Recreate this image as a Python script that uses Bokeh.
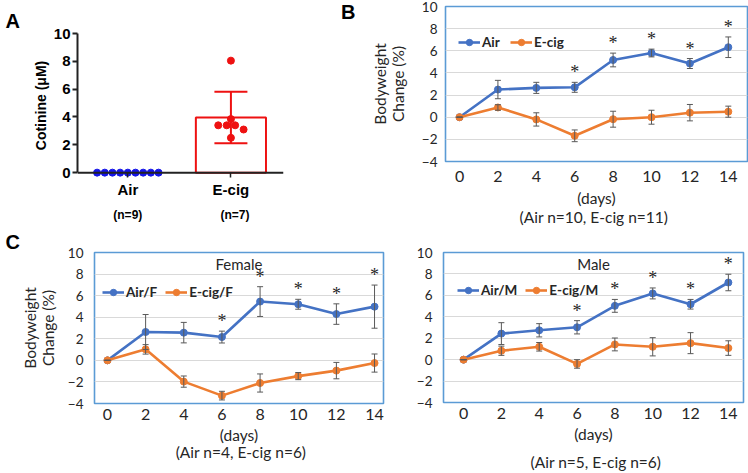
import numpy as np
from bokeh.plotting import figure
from bokeh.models import (ColumnDataSource, Span, Whisker, TeeHead, LinearAxis,
                          FixedTicker, Legend, LegendItem, Range1d, Label)
from bokeh.layouts import row, column
from bokeh.embed import file_html
from bokeh.resources import INLINE

# ---------------- data ----------------
# Panel A: serum cotinine
cotinine_groups = ["Air", "E-cig"]
cotinine_group_n = ["(n=9)", "(n=7)"]
cotinine_air = [0, 0, 0, 0, 0, 0, 0, 0, 0]
cotinine_ecig = [8.05, 3.85, 3.4, 3.4, 3.4, 3.1, 2.5]
cotinine_ticks = [0, 2, 4, 6, 8, 10]

# Bodyweight change panels
days = [0, 2, 4, 6, 8, 10, 12, 14]
bw_ticks = [-4, -2, 0, 2, 4, 6, 8, 10]

b_air = [0, 2.5, 2.65, 2.7, 5.17, 5.8, 4.85, 6.32]
b_air_err = [0, 0.83, 0.5, 0.45, 0.62, 0.35, 0.45, 0.93]
b_ecig = [0, 0.88, -0.2, -1.68, -0.18, 0.0, 0.41, 0.5]
b_ecig_err = [0, 0.25, 0.6, 0.53, 0.72, 0.63, 0.74, 0.5]
b_sig = [0, 0, 0, 1, 1, 1, 1, 1]

f_air = [0, 2.63, 2.57, 2.16, 5.45, 5.2, 4.29, 4.98]
f_air_err = [0, 1.62, 0.95, 0.55, 1.38, 0.46, 0.95, 2.0]
f_ecig = [0, 1.02, -1.97, -3.27, -2.1, -1.46, -0.95, -0.25]
f_ecig_err = [0, 0.44, 0.52, 0.4, 0.84, 0.33, 0.76, 0.84]
f_sig = [0, 0, 0, 1, 1, 1, 1, 1]

m_air = [0, 2.43, 2.74, 3.02, 5.02, 6.18, 5.17, 7.2]
m_air_err = [0, 1.02, 0.62, 0.62, 0.6, 0.51, 0.45, 0.77]
m_ecig = [0, 0.83, 1.2, -0.4, 1.42, 1.2, 1.54, 1.08]
m_ecig_err = [0, 0.43, 0.4, 0.4, 0.6, 0.85, 0.98, 0.68]
m_sig = [0, 0, 0, 1, 1, 1, 1, 1]

# ---------------- style ----------------
XL_FONT = "Lato"
AR_FONT = "Liberation Sans"
BLUE = "#4472C4"
ORANGE = "#ED7D31"
FRAME = "#5B9BD5"
GRID = "#D9D9D9"
TXT = "#262626"


def text_axis(tick, label, standoff, font, size, bold=False, color=TXT):
    """An extra, line-less axis that only carries one text label."""
    return LinearAxis(ticker=FixedTicker(ticks=[tick], minor_ticks=[]),
                      major_label_overrides={tick: label},
                      axis_line_color=None, major_tick_line_color=None,
                      minor_tick_line_color=None, major_tick_out=0, major_tick_in=0,
                      major_label_standoff=standoff, major_label_text_font=font,
                      major_label_text_font_size=size,
                      major_label_text_font_style="bold" if bold else "normal",
                      major_label_text_color=color)


def letter_title(p, letter, offset, standoff):
    p.title.text = letter
    p.title.align = "left"
    p.title.offset = offset
    p.title.standoff = standoff
    p.title.text_font = AR_FONT
    p.title.text_font_style = "bold"
    p.title.text_font_size = "20px"
    p.title.text_color = "black"


# ---------------- Panel A ----------------
pa = figure(width=300, height=228, output_backend="svg", toolbar_location=None,
            x_range=Range1d(0.512, 2.51), y_range=Range1d(-0.35, 10),
            min_border_left=77, min_border_right=17, min_border_top=33, min_border_bottom=51,
            frame_align=False)
pa.outline_line_color = None
pa.grid.visible = False
letter_title(pa, "A", -72, 4)

# bar for E-cig mean with SD
ecig_arr = np.array(cotinine_ecig)
ecig_mean = ecig_arr.mean()
ecig_sd = ecig_arr.std(ddof=1)
pa.vbar(x=[2], top=[ecig_mean], width=0.68, bottom=0, fill_color="white",
        line_color="#EE1111", line_width=2)
err_a = ColumnDataSource(dict(x=[2], lo=[ecig_mean - ecig_sd], hi=[ecig_mean + ecig_sd]))
pa.add_layout(Whisker(source=err_a, base="x", lower="lo", upper="hi", line_color="#EE1111",
                      line_width=2, level="glyph",
                      upper_head=TeeHead(size=33, line_color="#EE1111", line_width=2),
                      lower_head=TeeHead(size=33, line_color="#EE1111", line_width=2)))

# scatter points (column-scatter layout)
n_air = len(cotinine_air)
air_x = 1 + (np.arange(n_air) - (n_air - 1) / 2) * 0.0745
pa.scatter(air_x, cotinine_air, size=7, color="#1515E8")
ecig_x = []
for i, v in enumerate(cotinine_ecig):
    near = [j for j, w in enumerate(cotinine_ecig) if abs(w - v) < 0.32]
    k = near.index(i)
    ecig_x.append(2 + (k - (len(near) - 1) / 2) * 0.082)
pa.scatter(ecig_x, cotinine_ecig, size=7, color="#EE1111")

pa.add_layout(Span(location=0, dimension="width", line_color="#222222", line_width=2))
pa.yaxis.ticker = FixedTicker(ticks=cotinine_ticks, minor_ticks=[])
pa.yaxis.bounds = (0, 10)
pa.yaxis.axis_line_width = 2
pa.yaxis.axis_line_color = "#222222"
pa.yaxis.major_tick_line_width = 2
pa.yaxis.major_tick_line_color = "#222222"
pa.yaxis.major_tick_out = 5
pa.yaxis.major_tick_in = 0
pa.yaxis.major_label_text_font = AR_FONT
pa.yaxis.major_label_text_font_style = "bold"
pa.yaxis.major_label_text_font_size = "15px"
pa.yaxis.major_label_text_color = "black"
pa.yaxis.major_label_standoff = 2
pa.yaxis.axis_label = "Cotinine (\u03bcM)"
pa.yaxis.axis_label_text_font = AR_FONT
pa.yaxis.axis_label_text_font_style = "bold"
pa.yaxis.axis_label_text_font_size = "14px"
pa.yaxis.axis_label_text_color = "black"
pa.yaxis.axis_label_standoff = 2

pa.xaxis.ticker = FixedTicker(ticks=[1, 2], minor_ticks=[])
pa.xaxis.major_label_overrides = {1: cotinine_groups[0], 2: cotinine_groups[1]}
pa.xaxis.axis_line_color = None
pa.xaxis.major_tick_in = 5
pa.xaxis.major_tick_out = 0
pa.xaxis.major_tick_line_width = 1.5
pa.xaxis.major_tick_line_color = "#222222"
pa.xaxis.major_label_text_font = AR_FONT
pa.xaxis.major_label_text_font_style = "bold"
pa.xaxis.major_label_text_font_size = "15px"
pa.xaxis.major_label_text_color = "black"
pa.xaxis.major_label_standoff = 3
n_axis = LinearAxis(ticker=FixedTicker(ticks=[1, 2.04], minor_ticks=[]),
                    major_label_overrides={1: cotinine_group_n[0], 2.04: cotinine_group_n[1]},
                    axis_line_color=None, major_tick_line_color=None, minor_tick_line_color=None,
                    major_tick_out=0, major_tick_in=0, major_label_standoff=7,
                    major_label_text_font=AR_FONT, major_label_text_font_style="bold",
                    major_label_text_font_size="12px", major_label_text_color="black")
pa.add_layout(n_axis, "below")


# ---------------- line panels ----------------
def line_panel(width, height, borders, xr, air, air_err, ecig, ecig_err, sig, names,
               ylabel=None, title=None, ncap="", ncap_standoff=2, legend_xy=(10, 100),
               ytick_standoff=9, ylabel_standoff=12, xtick_standoff=9, xlabel_standoff=2):
    p = figure(width=width, height=height, output_backend="svg", toolbar_location=None,
               x_range=Range1d(*xr), y_range=Range1d(-4, 10),
               min_border_left=borders[0], min_border_right=borders[1],
               min_border_top=borders[2], min_border_bottom=borders[3],
               frame_align=False)
    p.outline_line_color = FRAME
    p.outline_line_width = 1.6
    p.xgrid.visible = False
    p.ygrid.ticker = FixedTicker(ticks=bw_ticks, minor_ticks=[])
    p.ygrid.grid_line_color = GRID
    p.ygrid.grid_line_width = 1
    p.yaxis.ticker = FixedTicker(ticks=bw_ticks, minor_ticks=[])
    p.xaxis.ticker = FixedTicker(ticks=days, minor_ticks=[])
    for ax in (p.xaxis, p.yaxis):
        ax.axis_line_color = None
        ax.major_tick_line_color = None
        ax.minor_tick_line_color = None
        ax.major_tick_out = 0
        ax.major_tick_in = 0
        ax.major_label_text_font = XL_FONT
        ax.major_label_text_color = TXT
    p.yaxis.major_label_text_font_size = "13.5px"
    p.yaxis.major_label_standoff = ytick_standoff
    p.xaxis.major_label_text_font_size = "16px"
    p.xaxis.major_label_standoff = xtick_standoff
    p.xaxis.axis_label = "(days)"
    p.xaxis.axis_label_text_font = XL_FONT
    p.xaxis.axis_label_text_font_style = "normal"
    p.xaxis.axis_label_text_font_size = "15.5px"
    p.xaxis.axis_label_text_color = TXT
    p.xaxis.axis_label_standoff = xlabel_standoff
    if ylabel:
        p.yaxis.axis_label = ylabel
        p.yaxis.axis_label_text_font = XL_FONT
        p.yaxis.axis_label_text_font_style = "normal"
        p.yaxis.axis_label_text_font_size = "15.5px"
        p.yaxis.axis_label_text_line_height = 1.0
        p.yaxis.axis_label_text_color = TXT
        p.yaxis.axis_label_standoff = ylabel_standoff

    items = []
    for vals, errs, col, name in ((air, air_err, BLUE, names[0]), (ecig, ecig_err, ORANGE, names[1])):
        v = np.array(vals)
        e = np.array(errs)
        src = ColumnDataSource(dict(x=days, y=v, lo=v - e, hi=v + e))
        p.add_layout(Whisker(source=src, base="x", lower="lo", upper="hi",
                             line_color="#595959", line_width=1, level="glyph",
                             upper_head=TeeHead(size=6, line_color="#595959", line_width=1),
                             lower_head=TeeHead(size=6, line_color="#595959", line_width=1)))
        lr = p.line("x", "y", source=src, line_color=col, line_width=2.6)
        sr = p.scatter("x", "y", source=src, size=7, color=col)
        items.append(LegendItem(label=name, renderers=[lr, sr]))

    # significance stars above Air error bars
    av = np.array(air) + np.array(air_err)
    sx = [d for d, s in zip(days, sig) if s]
    sy = [a for a, s in zip(av, sig) if s]
    p.text(sx, sy, text=["*"] * len(sx), text_font=XL_FONT, text_font_size="18px",
           text_color=TXT, text_align="center", text_baseline="bottom")

    leg = Legend(items=items, location=legend_xy, orientation="horizontal",
                 background_fill_alpha=0, border_line_color=None, margin=0, padding=0,
                 glyph_width=22, glyph_height=16, label_standoff=2, spacing=8,
                 label_text_font=XL_FONT, label_text_font_style="bold",
                 label_text_font_size="13.5px", label_text_color=TXT,
                 label_height=16)
    p.add_layout(leg)

    if title:
        p.add_layout(Label(x=(xr[0] + xr[1]) / 2, y=8.95, text=title, text_font=XL_FONT,
                           text_font_size="15px", text_color=TXT,
                           text_align="center", text_baseline="middle"))
    # group sizes printed under the day axis
    p.add_layout(text_axis(7, ncap, ncap_standoff, XL_FONT, "15.5px"), "below")
    return p


pb = line_panel(448, 228, (145, 1, 6, 64), (-0.73, 15.0), b_air, b_air_err, b_ecig, b_ecig_err,
                b_sig, ("Air", "E-cig"), ylabel="Bodyweight\nChange (%)",
                ncap="(Air n=10, E-cig n=11)", ncap_standoff=-2, legend_xy=(13, 111),
                ytick_standoff=8, ylabel_standoff=12, xtick_standoff=9, xlabel_standoff=4)
# panel letter B, to the left of the y-axis title
pb.add_layout(text_axis(9.5, "B", 12, AR_FONT, "20px", bold=True, color="black"), "left")

pf = line_panel(385, 245, (94, 2, 24, 70), (-0.68, 14.47), f_air, f_air_err, f_ecig, f_ecig_err,
                f_sig, ("Air/F", "E-cig/F"), ylabel="Bodyweight\nChange (%)", title="Female",
                ncap="(Air n=4, E-cig n=6)", ncap_standoff=-4, legend_xy=(8, 103),
                ytick_standoff=11, ylabel_standoff=8, xtick_standoff=5, xlabel_standoff=3)
letter_title(pf, "C", -89, 0)

pm = line_panel(363, 245, (58, 5, 24, 70), (-1.06, 14.8), m_air, m_air_err, m_ecig, m_ecig_err,
                m_sig, ("Air/M", "E-cig/M"), title="Male",
                ncap="(Air n=5, E-cig n=6)", ncap_standoff=7, legend_xy=(14, 104),
                ytick_standoff=11, xtick_standoff=5, xlabel_standoff=3)

layout = column(row(pa, pb), row(pf, pm))
open("out.html", "w").write(file_html(layout, INLINE))
